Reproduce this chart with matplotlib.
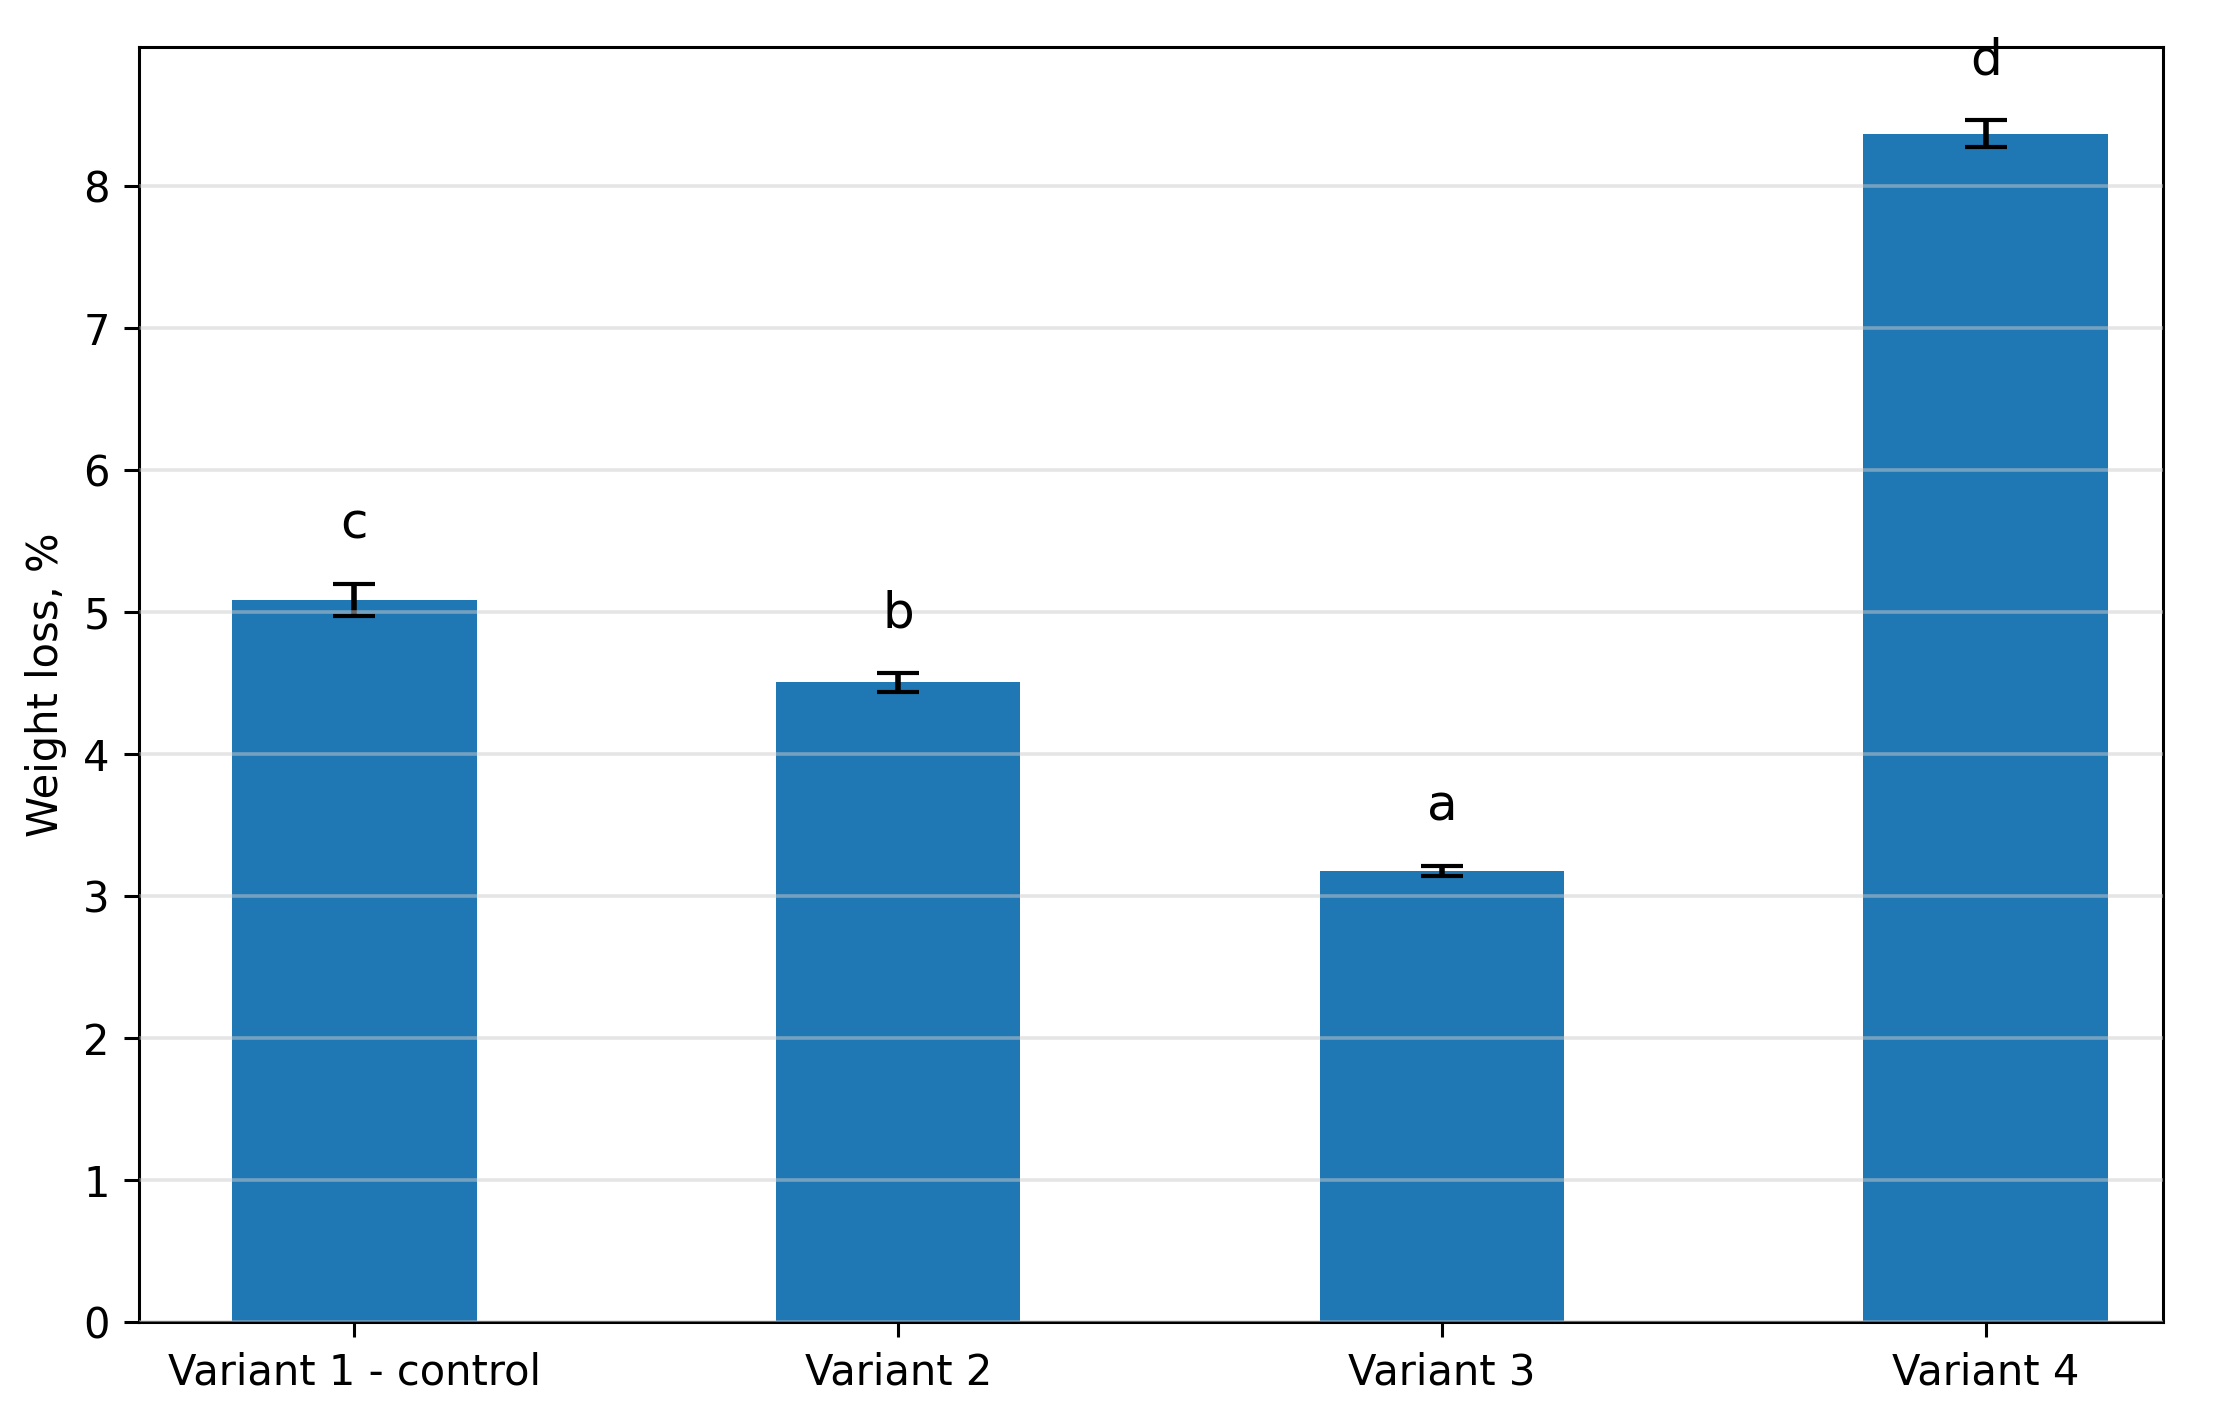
import matplotlib
matplotlib.use("Agg")
import matplotlib.pyplot as plt

categories = ["Variant 1 - control", "Variant 2", "Variant 3", "Variant 4"]
means = [5.085, 4.505, 3.177, 8.37]
errors = [0.115, 0.065, 0.035, 0.095]
letters = ["c", "b", "a", "d"]

fig = plt.figure(figsize=(11.12, 7.03), dpi=200)
ax = fig.add_axes([139/2224, 1 - 1322/1406, (2163-139)/2224, (1322-47)/1406])
x = list(range(len(categories)))
ax.bar(x, means, width=0.45, color="#1f77b4", yerr=errors, capsize=7.7,
       error_kw=dict(elinewidth=2.0, capthick=1.5, ecolor="black"), zorder=2)
for xi, m, e, l in zip(x, means, errors, letters):
    ax.text(xi, m + e + 0.32, l, ha="center", va="baseline", fontsize=18)
ax.set_xticks(x)
ax.set_xticklabels(categories, fontsize=15)
ax.tick_params(axis="both", labelsize=15, length=5.5, width=1.1, pad=5)
ax.set_ylabel("Weight loss, %", fontsize=15, labelpad=6)
ax.set_xlim(-0.396, 3.326)
ax.set_ylim(0, 8.98)
ax.yaxis.grid(True, color="#cccccc", alpha=0.5, linewidth=1.3, zorder=3)
ax.set_axisbelow(False)
for s in ax.spines.values():
    s.set_linewidth(1.1)
fig.savefig("out.png", dpi=200)
